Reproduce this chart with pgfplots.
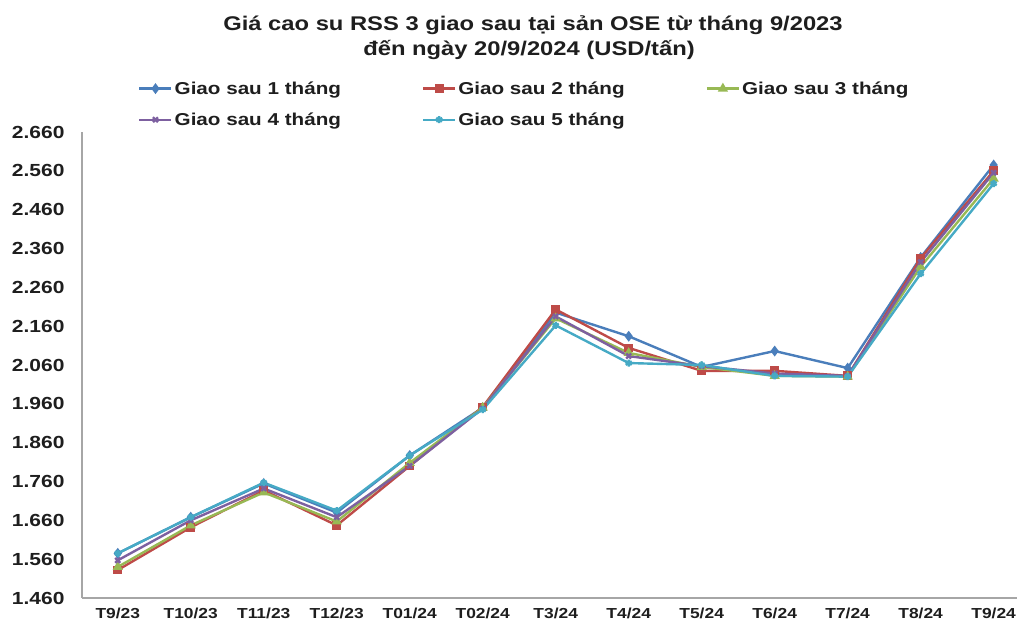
\documentclass[border=0pt]{standalone}
\usepackage{fontspec}
\setmainfont{Liberation Sans}[FakeStretch=1.2]
\usepackage{pgfplots}
\pgfplotsset{compat=1.18}
\usepackage{pgfplotstable}
\definecolor{s1}{HTML}{4A7EBB}
\definecolor{s2}{HTML}{BE4B48}
\definecolor{s3}{HTML}{98B954}
\definecolor{s4}{HTML}{7D60A0}
\definecolor{s5}{HTML}{46AAC5}
\definecolor{txt}{HTML}{1E1E1E}
\definecolor{axl}{HTML}{A6A6A6}
\pgfplotstableread{
x s1 s2 s3 s4 s5
0 1575 1532 1540 1557 1575
1 1668 1642 1647 1660 1668
2 1755 1737 1732 1742 1757
3 1680 1647 1657 1668 1685
4 1827 1800 1808 1800 1827
5 1950 1952 1950 1948 1945
6 2195 2203 2180 2185 2162
7 2134 2104 2091 2083 2065
8 2055 2045 2055 2057 2060
9 2096 2045 2032 2038 2032
10 2052 2032 2030 2032 2030
11 2337 2335 2313 2325 2295
12 2575 2560 2540 2555 2527
}\datatable
\begin{document}
\begin{tikzpicture}[font=\bfseries, text=txt]
\useasboundingbox (-82pt,-30pt) rectangle (935pt,598pt);
\begin{axis}[
  scale only axis,
  width=935pt, height=466pt,
  xmin=-0.49, xmax=12.32,
  ymin=1460, ymax=2660,
  axis x line*=bottom, axis y line*=left,
  axis line style={axl, line width=1.2pt, -},
  xtick={0,...,12},
  xticklabels={T9/23,T10/23,T11/23,T12/23,T01/24,T02/24,T3/24,T4/24,T5/24,T6/24,T7/24,T8/24,T9/24},
  ytick={1460,1560,...,2660},
  major tick length=0pt,
  /pgf/number format/1000 sep={.},
  /pgf/number format/fixed,
  /pgf/number format/assume math mode=true,
  y tick label style={font=\bfseries\fontsize{17.5}{19}\selectfont, xshift=-14pt},
  x tick label style={font=\bfseries\fontsize{14.5}{16}\selectfont, yshift=-6pt},
  legend columns=3,
  legend cell align=left,
  legend style={draw=none, fill=none, font=\bfseries\fontsize{17.2}{19}\selectfont,
    at={(axis description cs:0.060,1.113)}, anchor=north west,
    /tikz/every even column/.append style={column sep=79pt},
    row sep=13pt, inner sep=0pt},
  legend image code/.code={\draw[mark repeat=2,mark phase=2] plot coordinates {(0pt,0pt) (16pt,0pt) (32pt,0pt)};},
  every axis plot/.append style={line width=2.4pt},
  clip=false,
]
\addplot[s1, mark=diamond*, mark size=3.5pt, mark options={solid}] table[x=x,y=s1]{\datatable};
\addlegendentry{Giao sau 1 tháng}
\addplot[s2, mark=square*, mark size=3.2pt] table[x=x,y=s2]{\datatable};
\addlegendentry{Giao sau 2 tháng}
\addplot[s3, mark=triangle*, mark size=3.5pt] table[x=x,y=s3]{\datatable};
\addlegendentry{Giao sau 3 tháng}
\addplot[s4, mark=x, mark size=3.5pt] table[x=x,y=s4]{\datatable};
\addlegendentry{Giao sau 4 tháng}
\addplot[s5, mark=asterisk, mark size=3.5pt] table[x=x,y=s5]{\datatable};
\addlegendentry{Giao sau 5 tháng}
\end{axis}
\node[font=\bfseries\fontsize{19.8}{24}\selectfont, anchor=base] at (451pt,567pt) {Giá cao su RSS 3 giao sau tại sản OSE từ tháng 9/2023};
\node[font=\bfseries\fontsize{19.8}{24}\selectfont, anchor=base] at (447pt,542pt) {đến ngày 20/9/2024 (USD/tấn)};
\end{tikzpicture}
\end{document}
